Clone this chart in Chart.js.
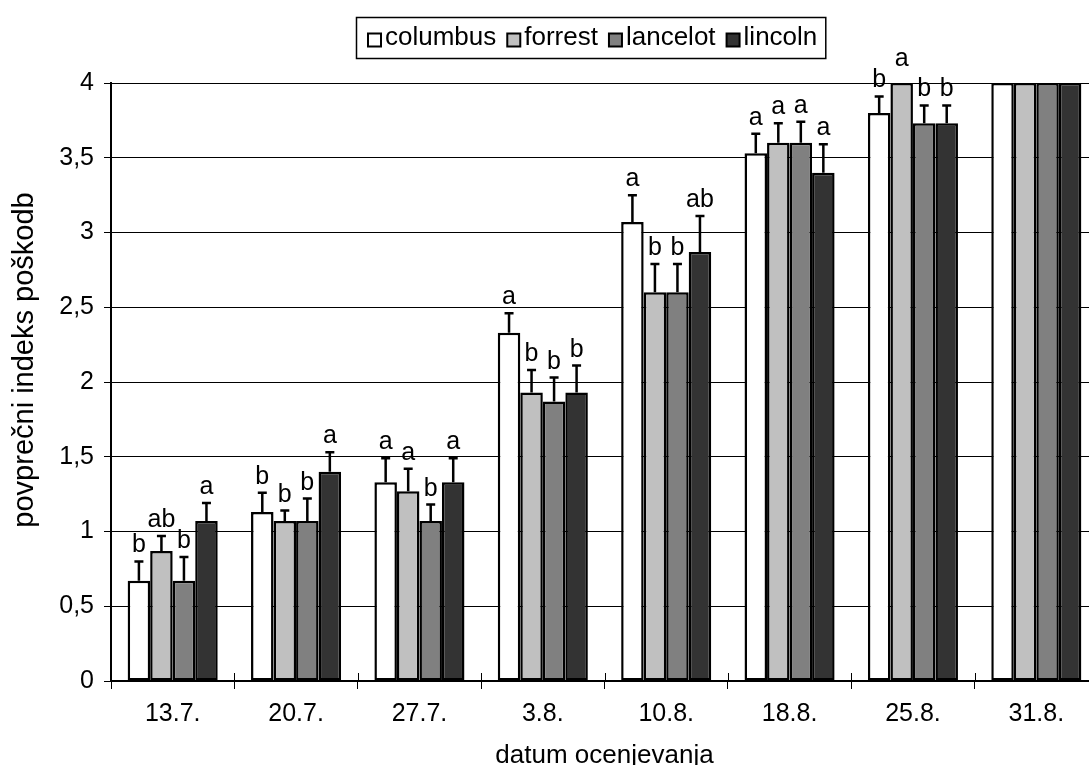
<!DOCTYPE html>
<html>
<head>
<meta charset="utf-8">
<title>povprečni indeks poškodb</title>
<script src="https://cdn.jsdelivr.net/npm/chart.js@4/dist/chart.umd.min.js"></script>
<style>
  html, body { margin: 0; padding: 0; background: #fff; overflow: hidden; }
  #wrap { position: relative; width: 1110px; height: 785px; }
  canvas { display: block; }
</style>
</head>
<body>
<div id="wrap"><canvas id="chart" width="1110" height="785"></canvas></div>
<script>
// Assessment dates (x categories)
const categories = ['13.7.', '20.7.', '27.7.', '3.8.', '10.8.', '18.8.', '25.8.', '31.8.'];

// Cultivars
const seriesNames = ['columbus', 'forrest', 'lancelot', 'lincoln'];
const seriesColors = ['#ffffff', '#c0c0c0', '#808080', '#333333'];

// Mean damage index per date
const columbus = [0.67, 1.13, 1.33, 2.33, 3.07, 3.53, 3.80, 4.00];
const forrest  = [0.87, 1.07, 1.27, 1.93, 2.60, 3.60, 4.00, 4.00];
const lancelot = [0.67, 1.07, 1.07, 1.87, 2.60, 3.60, 3.73, 4.00];
const lincoln  = [1.07, 1.40, 1.33, 1.93, 2.87, 3.40, 3.73, 4.00];

// Standard error (upper whisker)
const columbusErr = [0.13, 0.13, 0.16, 0.13, 0.18, 0.13, 0.11, 0];
const forrestErr  = [0.10, 0.07, 0.15, 0.15, 0.19, 0.13, 0.00, 0];
const lancelotErr = [0.16, 0.15, 0.11, 0.16, 0.19, 0.14, 0.12, 0];
const lincolnErr  = [0.12, 0.13, 0.16, 0.18, 0.24, 0.19, 0.12, 0];

// Significance letters
const columbusLetters = ['b', 'b', 'a', 'a', 'a',  'a', 'b', ''];
const forrestLetters  = ['ab', 'b', 'a', 'b', 'b',  'a', 'a', ''];
const lancelotLetters = ['b', 'b', 'b', 'b', 'b',  'a', 'b', ''];
const lincolnLetters  = ['a', 'a', 'a', 'b', 'ab', 'a', 'b', ''];

// Y axis
const yMin = 0;
const yMax = 4;
const yStep = 0.5;

const yTitle = 'povprečni indeks poškodb';
const xTitle = 'datum ocenjevanja';

const seriesValues = [columbus, forrest, lancelot, lincoln];
const seriesErrors = [columbusErr, forrestErr, lancelotErr, lincolnErr];
const seriesLetters = [columbusLetters, forrestLetters, lancelotLetters, lincolnLetters];

const FONT = "'Liberation Sans', Arial, Helvetica, sans-serif";
Chart.defaults.font.family = FONT;
Chart.defaults.color = '#000';

// Whiskers and letters above each bar
const errorLetters = {
  id: 'errorLetters',
  afterDatasetsDraw(chart) {
    const ctx = chart.ctx;
    const yScale = chart.scales.y;
    ctx.save();
    chart.data.datasets.forEach((ds, di) => {
      const meta = chart.getDatasetMeta(di);
      meta.data.forEach((bar, i) => {
        const v = ds.data[i];
        const e = ds.errors[i];
        const yTop = yScale.getPixelForValue(v + e);
        if (e > 0) {
          ctx.strokeStyle = '#000';
          ctx.lineWidth = 2.5;
          ctx.beginPath();
          ctx.moveTo(bar.x, bar.y);
          ctx.lineTo(bar.x, yTop);
          ctx.moveTo(bar.x - 4.5, yTop);
          ctx.lineTo(bar.x + 4.5, yTop);
          ctx.stroke();
        }
        const letter = ds.letters[i];
        if (letter) {
          ctx.fillStyle = '#000';
          ctx.font = '25px ' + FONT;
          ctx.textAlign = 'center';
          ctx.textBaseline = 'alphabetic';
          ctx.fillText(letter, bar.x, yTop - (e > 0 ? 9 : 17));
        }
      });
    });
    ctx.restore();
  }
};

// Category boundary ticks crossing the x axis
const crossTicks = {
  id: 'crossTicks',
  afterDraw(chart) {
    const ctx = chart.ctx;
    const xs = chart.scales.x;
    const yAxis = chart.chartArea.bottom;
    ctx.save();
    ctx.strokeStyle = '#000';
    ctx.lineWidth = 1;
    for (let i = 1; i < categories.length; i++) {
      const x = Math.round(xs.getPixelForValue(i - 0.5)) + 0.5;
      ctx.beginPath();
      ctx.moveTo(x, yAxis - 8);
      ctx.lineTo(x, yAxis);
      ctx.stroke();
    }
    ctx.restore();
  }
};

// Rotated y axis title
const yAxisTitle = {
  id: 'yAxisTitle',
  afterDraw(chart) {
    const ctx = chart.ctx;
    const area = chart.chartArea;
    ctx.save();
    ctx.translate(25, (area.top + area.bottom) / 2 - 22);
    ctx.rotate(-Math.PI / 2);
    ctx.fillStyle = '#000';
    ctx.font = '29px ' + FONT;
    ctx.textAlign = 'center';
    ctx.textBaseline = 'middle';
    ctx.fillText(yTitle, 0, 0);
    ctx.restore();
  }
};

// Boxed legend in a single row
const boxLegend = {
  id: 'boxLegend',
  afterDraw(chart) {
    const ctx = chart.ctx;
    ctx.save();
    ctx.font = '26px ' + FONT;
    const sq = 13, sqGap = 4, itemGap = 11, padL = 12, padR = 8;
    const widths = chart.data.datasets.map(ds => ctx.measureText(ds.label).width);
    let total = padL + padR;
    widths.forEach((w, i) => { total += sq + sqGap + w + (i ? itemGap : 0); });
    const cx = 591, top = 17, h = 41;
    const left = Math.round(cx - total / 2);
    ctx.fillStyle = '#fff';
    ctx.fillRect(left, top, total, h);
    ctx.strokeStyle = '#000';
    ctx.lineWidth = 1.5;
    ctx.strokeRect(left + 0.5, top + 0.5, total, h);
    let x = left + padL;
    const midY = top + h / 2;
    chart.data.datasets.forEach((ds, i) => {
      ctx.fillStyle = ds.backgroundColor;
      ctx.fillRect(x, midY - 4, sq, sq);
      ctx.strokeStyle = '#000';
      ctx.lineWidth = 2;
      ctx.strokeRect(x, midY - 4, sq, sq);
      x += sq + sqGap;
      ctx.fillStyle = '#000';
      ctx.textAlign = 'left';
      ctx.textBaseline = 'middle';
      ctx.fillText(ds.label, x, midY);
      x += widths[i] + itemGap;
    });
    ctx.restore();
  }
};

const datasets = seriesNames.map((name, i) => ({
  label: name,
  data: seriesValues[i],
  errors: seriesErrors[i],
  letters: seriesLetters[i],
  backgroundColor: seriesColors[i],
  borderColor: '#000',
  borderWidth: 2.5,
  borderSkipped: false
}));

new Chart(document.getElementById('chart'), {
  type: 'bar',
  data: { labels: categories, datasets },
  options: {
    responsive: false,
    animation: false,
    devicePixelRatio: 1,
    layout: { padding: { left: 0, top: 83, right: 12, bottom: 0 } },
    datasets: { bar: { barPercentage: 1, categoryPercentage: 0.73 } },
    plugins: { legend: { display: false }, tooltip: { enabled: false } },
    scales: {
      x: {
        afterFit(scale) { scale.height = 104; },
        grid: { offset: true, drawOnChartArea: false, drawTicks: true, tickLength: 8, color: '#000', lineWidth: 1 },
        border: { display: true, color: '#000', width: 2 },
        ticks: { color: '#000', font: { size: 25 }, padding: 10, maxRotation: 0 },
        title: { display: true, text: xTitle, color: '#000', font: { size: 26 }, padding: { top: 0, bottom: 14 } }
      },
      y: {
        min: yMin,
        max: yMax,
        afterFit(scale) { scale.width = 111; },
        grid: { color: '#000', lineWidth: 1, drawTicks: true, tickLength: 7 },
        border: { display: true, color: '#000', width: 2 },
        ticks: {
          stepSize: yStep,
          color: '#000',
          font: { size: 25 },
          padding: 10,
          callback: v => String(v).replace('.', ',')
        },
        title: { display: false }
      }
    }
  },
  plugins: [errorLetters, crossTicks, yAxisTitle, boxLegend]
});
</script>
</body>
</html>
